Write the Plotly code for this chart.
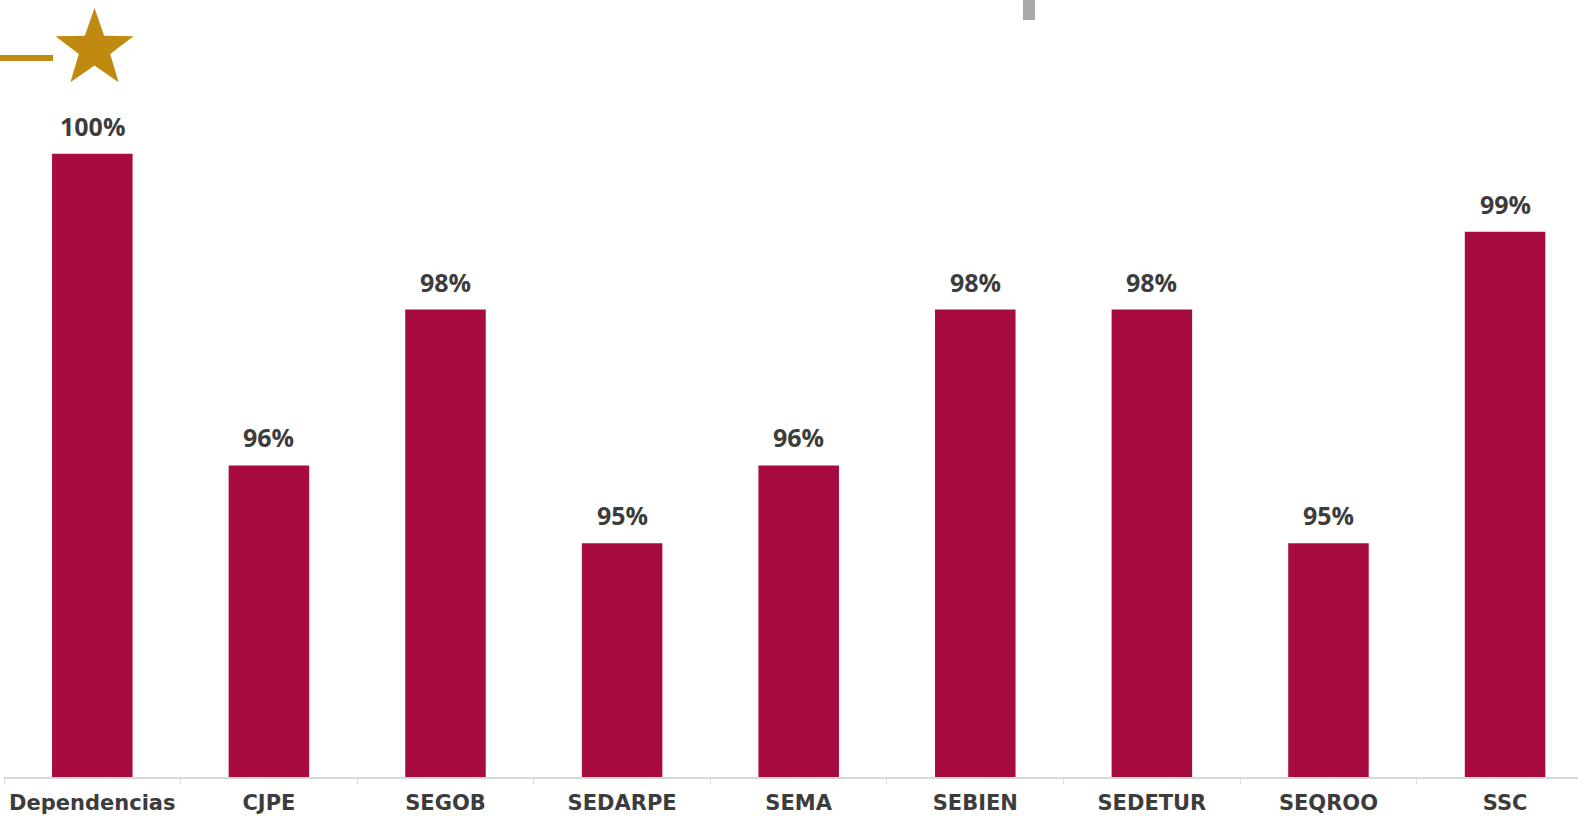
import math
import plotly.graph_objects as go

categories = ["Dependencias", "CJPE", "SEGOB", "SEDARPE", "SEMA", "SEBIEN", "SEDETUR", "SEQROO", "SSC"]
values = [100, 96, 98, 95, 96, 98, 98, 95, 99]
labels = ["100%", "96%", "98%", "95%", "96%", "98%", "98%", "95%", "99%"]

BAR = "#A80C3E"
TXT = "#3c3c3c"
GOLD = "#C08A10"

W, H = 1578, 816
ML, MR, MT, MB = 4, 0, 0, 39

fig = go.Figure()
fig.add_trace(go.Bar(x=categories, y=values, marker_color=BAR, marker_line_width=0,
                     width=0.456, hoverinfo="skip"))

for c, v, t in zip(categories, values, labels):
    fig.add_annotation(x=c, y=v, text=t, showarrow=False, yanchor="bottom", yshift=9,
                       font=dict(family="Open Sans", size=25, color=TXT, weight="bold"))

# star decoration (pixel-sized path anchored in paper coords)
R, r = 41, 16.5
pts = []
for i in range(10):
    ang = math.pi / 2 + i * math.pi / 5
    rad = R if i % 2 == 0 else r
    pts.append((rad * math.cos(ang), rad * math.sin(ang)))
path = "M " + " L ".join(f"{x:.2f},{y:.2f}" for x, y in pts) + " Z"
pw, ph = W - ML - MR, H - MT - MB
sx = (94.5 - ML) / pw
sy = 1 - (49 - MT) / ph
fig.add_shape(type="path", xref="paper", yref="paper", xsizemode="pixel", ysizemode="pixel",
              xanchor=sx, yanchor=sy, path=path, fillcolor=GOLD, line_width=0, layer="above")
ly = 1 - (58 - MT) / ph
fig.add_shape(type="line", xref="paper", yref="paper", x0=-ML / pw, x1=(53 - ML) / pw,
              y0=ly, y1=ly, line=dict(color=GOLD, width=6))
# small gray artefact at top
fig.add_shape(type="rect", xref="paper", yref="paper",
              x0=(1023 - ML) / pw, x1=(1035 - ML) / pw, y0=1 - 20 / ph, y1=1.0,
              fillcolor="#a9a9a9", line_width=0)

fig.update_layout(
    width=W, height=H, margin=dict(l=ML, r=MR, t=MT, b=MB, autoexpand=False),
    paper_bgcolor="white", plot_bgcolor="white", showlegend=False,
    bargap=0.544,
    xaxis=dict(range=[-0.5, 8.413], showgrid=False, showline=True, linecolor="#d8d8d8", linewidth=2,
               ticks="outside", tickson="boundaries", ticklen=5, tickcolor="#dcdcdc",
               automargin=False, ticklabelstandoff=6,
               tickfont=dict(family="DejaVu Sans", size=21, color=TXT, weight="bold"), fixedrange=True),
    yaxis=dict(range=[92, 92 + 777 / 77.9], visible=False, fixedrange=True, automargin=False),
)
fig.write_html("out.html", config={"displayModeBar": False},
               post_script="document.body.style.margin='0';document.body.style.overflow='hidden';")
